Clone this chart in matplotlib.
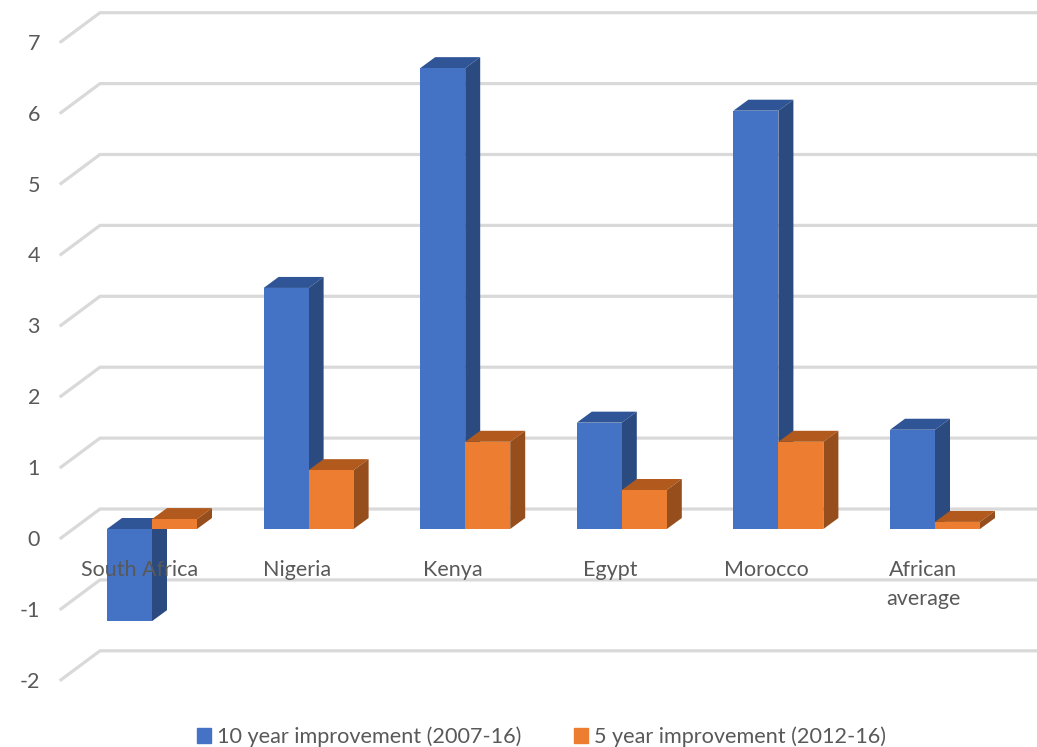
from matplotlib import pyplot as plt
from matplotlib.patches import Polygon, Patch

plt.rcParams['font.family'] = ['Lato', 'DejaVu Sans']

categories = ['South Africa', 'Nigeria', 'Kenya', 'Egypt', 'Morocco', 'African\naverage']
ten_year = [-1.3, 3.4, 6.5, 1.5, 5.9, 1.4]
five_year = [0.14, 0.83, 1.23, 0.55, 1.23, 0.1]
ticks = [-2, -1, 0, 1, 2, 3, 4, 5, 6, 7]
series_names = ['10 year improvement (2007-16)', '5 year improvement (2012-16)']

BLUE = ('#4472c4', '#2f5597', '#2a4a80')
ORANGE = ('#ed7d31', '#b25a1e', '#964f1c')
TEXT = '#595959'

# one x unit is 156.6 px, one y unit is 70.9 px
fig = plt.figure(figsize=(10.37, 7.47), dpi=100)
ax = fig.add_axes([0, 0, 1, 1])
ax.set_xlim(-152 / 156.6, 885 / 156.6)
ax.set_ylim(-218 / 70.9, 529 / 70.9)
ax.axis('off')

bar_w = 45 / 156.6
dx = 15 / 156.6
dy = 11 / 70.9


def bar3d(x0, val, cols):
    x1 = x0 + bar_w
    lo, hi = min(0, val), max(0, val)
    # top and side first, then the front face
    ax.add_patch(Polygon([(x0, hi), (x0 + dx, hi + dy), (x1 + dx, hi + dy), (x1, hi)],
                         fc=cols[1], ec='none', zorder=3))
    ax.add_patch(Polygon([(x1, lo), (x1 + dx, lo + dy), (x1 + dx, hi + dy), (x1, hi)],
                         fc=cols[2], ec='none', zorder=3))
    ax.add_patch(Polygon([(x0, lo), (x1, lo), (x1, hi), (x0, hi)],
                         fc=cols[0], ec='none', zorder=3))


# gridlines: back wall plus the diagonal on the side wall
back_x = -52 / 156.6
front_x = -91 / 156.6
back_up = 20 / 70.9
front_down = 9 / 70.9
for t in ticks:
    ax.plot([front_x, back_x, 885 / 156.6], [t - front_down, t + back_up, t + back_up],
            color='#d9d9d9', lw=2.3, zorder=1, solid_joinstyle='miter')
    ax.text(-112 / 156.6, t - 11 / 70.9, str(t), ha='right', va='center', fontsize=15.5, color=TEXT)

# draw left to right so later bars sit on top
for i in range(len(categories)):
    bar3d(i - bar_w, ten_year[i], BLUE)
    bar3d(i, five_year[i], ORANGE)

for i, name in enumerate(categories):
    ax.text(i - 12 / 156.6, -31 / 70.9, name, ha='center', va='top', fontsize=15.5,
            color=TEXT, zorder=5, linespacing=1.55)

handles = [Patch(color=BLUE[0]), Patch(color=ORANGE[0])]
ax.legend(handles, series_names, loc='center', bbox_to_anchor=(0.5222, 0.0135), ncol=2,
          frameon=False, fontsize=15.6, labelcolor=TEXT, handlelength=0.64, handleheight=0.64,
          handletextpad=0.3, columnspacing=2.4)

fig.savefig('out.png', dpi=100)
